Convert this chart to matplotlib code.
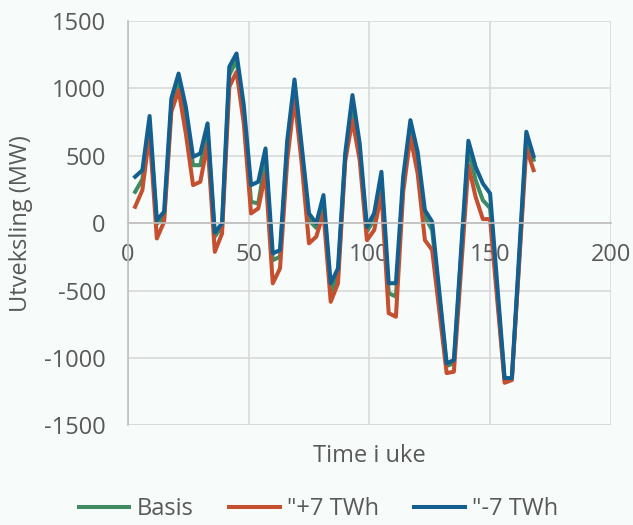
import matplotlib
matplotlib.use("Agg")
import matplotlib.pyplot as plt

plt.rcParams['font.family'] = ['Open Sans', 'DejaVu Sans']
plt.rcParams['axes.unicode_minus'] = False

#### Data ####
timer = list(range(3, 169, 3))

basis = [232, 325, 720, -5, 40, 870, 1050, 790, 430, 430, 690, -100, -25, 1100,
         1210, 815, 158, 146, 467, -275, -250, 560, 987, 510, 22, -35, 150, -510,
         -390, 480, 851, 530, -60, 26, 327, -520, -545, 290, 690, 467, 47, -52,
         -556, -1060, -1040, -240, 560, 319, 170, 111, -535, -1165, -1160, -290,
         640, 470]

pluss7 = [121, 245, 665, -114, 10, 826, 987, 665, 282, 307, 591, -213, -77, 1011,
          1123, 740, 72, 109, 368, -447, -336, 467, 925, 440, -150, -101, 74, -584,
          -447, 460, 764, 467, -126, -52, 222, -668, -695, 230, 640, 368, -126, -200,
          -656, -1113, -1103, -340, 430, 195, 30, 30, -578, -1185, -1165, -305,
          556, 393]

minus7 = [344, 393, 795, 22, 84, 925, 1110, 863, 492, 517, 740, -70, -2, 1160,
          1259, 876, 282, 307, 554, -225, -200, 616, 1066, 570, 72, -2, 208, -447,
          -336, 517, 950, 591, -27, 74, 381, -446, -446, 344, 764, 529, 96, 10,
          -515, -1040, -1017, -200, 611, 418, 294, 220, -465, -1150, -1150, -240,
          678, 497]

#### Figure ####
bg = '#f7fbfa'
txt = '#595959'
fs = 17
fig = plt.figure(figsize=(6.33, 5.25), dpi=100, facecolor=bg)
ax = fig.add_axes([0.202, 0.190, 0.763, 0.770], facecolor=bg)

ax.plot(timer, basis, color='#3d8c63', lw=2.9, label='Basis', solid_joinstyle='round')
ax.plot(timer, pluss7, color='#c5502f', lw=2.9, label='"+7 TWh', solid_joinstyle='round')
ax.plot(timer, minus7, color='#135f8f', lw=2.9, label='"-7 TWh', solid_joinstyle='round')

ax.set_xlim(0, 200)
ax.set_ylim(-1500, 1500)
ax.set_xticks([0, 50, 100, 150, 200])
ax.set_yticks(range(-1500, 1501, 500))
ax.grid(True, color='#d9d9d9', lw=1.2)
ax.set_axisbelow(True)

for s in ['top', 'right']:
    ax.spines[s].set_visible(False)
ax.spines['left'].set_color('#bfbfbf')
ax.spines['left'].set_linewidth(1.2)
ax.spines['bottom'].set_position(('data', 0))
ax.spines['bottom'].set_color('#bfbfbf')
ax.spines['bottom'].set_linewidth(1.2)
ax.axhline(-1500, color='#d9d9d9', lw=1.2, zorder=0)

ax.tick_params(length=0, labelsize=fs, colors=txt)
ax.tick_params(axis='y', pad=16)
ax.tick_params(axis='x', pad=14)

ax.set_xlabel('Time i uke', fontsize=fs, color=txt)
ax.set_ylabel('Utveksling (MW)', fontsize=fs, color=txt)
ax.xaxis.set_label_coords(0.5, -0.047)
ax.yaxis.set_label_coords(-0.197, 0.5)

leg = fig.legend(loc='center', ncol=3, frameon=False, fontsize=fs,
                 labelcolor=txt, handlelength=2.15, columnspacing=1.5,
                 handletextpad=0.3, bbox_to_anchor=(0.503, 0.03))

fig.savefig('out.png', dpi=100, facecolor=bg)
